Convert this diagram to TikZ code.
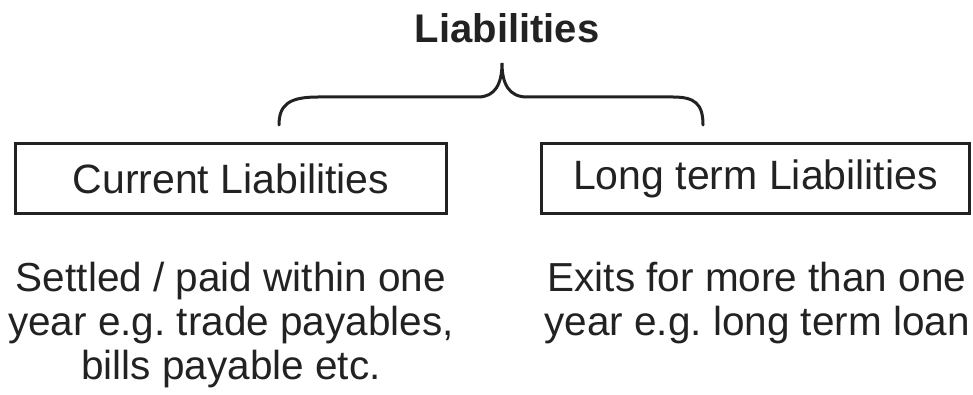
\documentclass[tikz,border=0pt]{standalone}
\usepackage{fontspec}
\setmainfont{Liberation Sans}
\frenchspacing
\definecolor{ink}{HTML}{222222}
\begin{document}
\begin{tikzpicture}[x=1pt,y=1pt,
  every node/.style={inner sep=0pt,outer sep=0pt,text=ink},
  bodytext/.style={font=\fontsize{40.5}{44}\selectfont,align=center},
  catbox/.style={draw=ink,line width=3pt,minimum height=70pt,
    font=\fontsize{41}{45}\selectfont},
  bracket/.style={draw=ink,line width=3pt,line cap=round}]
\useasboundingbox (0,0) rectangle (973,394);
% heading
\node[anchor=base,font=\fontsize{40}{44}\selectfont\bfseries] (title) at (507,351) {Liabilities};
% the two categories
\node[catbox,minimum width=431pt] (cur) at (231,215.5) {Current Liabilities};
\node[catbox,minimum width=428pt] (long) at (755.5,215.5) {Long term Liabilities};
% brace from the heading to both categories
\coordinate (tip) at (502,331);
\coordinate (lend) at (279,269);
\coordinate (rend) at (703,269);
\draw[bracket] (lend) .. controls (279,290) and (290,297) .. (318,297)
  -- (478,297) .. controls (495,297) and (502,310) .. (tip)
  .. controls (502,310) and (509,297) .. (527,297)
  -- (673,297) .. controls (695,297) and (703,290) .. (rend);
% descriptions (anchored at the baseline of their last line)
\node[bodytext,anchor=base] (curtxt) at (231,15)
  {Settled / paid within one\\year e.g. trade payables,\\bills payable etc.};
\node[bodytext,anchor=base] (longtxt) at (757,59)
  {Exits for more than one\\year e.g. long term loan};
\end{tikzpicture}
\end{document}
